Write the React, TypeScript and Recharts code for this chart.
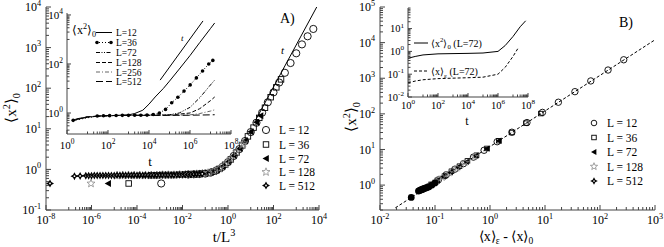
import React from 'react';
import { ScatterChart, Scatter, XAxis, YAxis } from 'recharts';

const FONT = "'Liberation Serif', 'Times New Roman', serif";
const INK = '#000';
const FRAME = '#444';

type Pt = [number, number];

// ---- panel A: <x^2>_0 against t/L^3 (first point of each L is t = 2) ----
const aL12: Pt[] = [
  [1.16e-3, 0.45],
  [1.78e-2, 0.75], [3.16e-2, 0.76], [5.62e-2, 0.77], [0.1, 0.79], [0.178, 0.84], [0.316, 0.95], [0.562, 1.15],
  [1, 1.51], [1.78, 2.14], [3.16, 3.16], [5.62, 5.0], [10, 8.3], [17.8, 14.1], [31.6, 25], [56.2, 45],
  [100, 79], [178, 138], [316, 240], [562, 417], [1000, 724], [1780, 1200], [3160, 1900], [5620, 2880],
];
const aL36: Pt[] = [
  [4.3e-5, 0.45],
  [4.22e-4, 0.72], [7.5e-4, 0.72], [1.33e-3, 0.73], [2.37e-3, 0.73], [4.22e-3, 0.73], [7.5e-3, 0.74],
  [1.33e-2, 0.75], [2.37e-2, 0.75], [4.22e-2, 0.76], [7.5e-2, 0.78], [0.133, 0.81], [0.237, 0.88],
  [0.422, 1.03], [0.75, 1.3], [1.33, 1.76], [2.37, 2.6], [4.22, 3.9], [7.5, 6.5], [13.3, 10.7],
  [23.7, 18.6], [42.2, 33], [75, 60], [133, 105], [214, 165],
];
const aL72: Pt[] = [
  [5.4e-6, 0.45],
  [5.62e-5, 0.72], [1e-4, 0.72], [1.78e-4, 0.72], [3.16e-4, 0.72], [5.62e-4, 0.72], [1e-3, 0.73],
  [1.78e-3, 0.73], [3.16e-3, 0.73], [5.62e-3, 0.74], [1e-2, 0.74], [1.78e-2, 0.75], [3.16e-2, 0.76],
  [5.62e-2, 0.78], [0.1, 0.8], [0.178, 0.86], [0.316, 0.97], [0.562, 1.18], [1, 1.55], [1.78, 2.2],
  [3.16, 3.25], [5.62, 5.1], [10, 8.5], [17.8, 14.5], [26.9, 21],
];
const aL128: Pt[] = [
  [9.5e-7, 0.45],
  [1.33e-5, 0.71], [2.37e-5, 0.72], [4.22e-5, 0.72], [7.5e-5, 0.72], [1.33e-4, 0.72], [2.37e-4, 0.72],
  [4.22e-4, 0.72], [7.5e-4, 0.72], [1.33e-3, 0.73], [2.37e-3, 0.73], [4.22e-3, 0.73], [7.5e-3, 0.74],
  [1.33e-2, 0.74], [2.37e-2, 0.75], [4.22e-2, 0.77], [7.5e-2, 0.79], [0.133, 0.82], [0.237, 0.9],
  [0.422, 1.05], [0.75, 1.33], [1.33, 1.8], [2.37, 2.65], [4.22, 4.0], [4.79, 4.4],
];
const aL512: Pt[] = [
  [1.5e-8, 0.45],
  [1.78e-7, 0.68], [3.16e-7, 0.69], [5.62e-7, 0.7], [7.5e-7, 0.7], [1e-6, 0.7], [1.33e-6, 0.71],
  [1.78e-6, 0.71], [2.37e-6, 0.71], [3.16e-6, 0.71], [4.22e-6, 0.71], [5.62e-6, 0.71], [7.5e-6, 0.71],
  [1e-5, 0.71], [1.33e-5, 0.72], [1.78e-5, 0.72], [2.37e-5, 0.72], [3.16e-5, 0.72], [4.22e-5, 0.72],
  [5.62e-5, 0.72], [7.5e-5, 0.72], [1e-4, 0.72], [1.33e-4, 0.72], [1.78e-4, 0.72], [2.37e-4, 0.72],
  [3.16e-4, 0.72], [4.22e-4, 0.72], [5.62e-4, 0.72], [7.5e-4, 0.72], [1e-3, 0.73], [1.33e-3, 0.73],
  [1.78e-3, 0.73], [2.37e-3, 0.73], [3.16e-3, 0.73], [4.22e-3, 0.73], [5.62e-3, 0.74], [7.5e-3, 0.74],
  [1e-2, 0.74], [1.33e-2, 0.75], [1.78e-2, 0.75], [2.37e-2, 0.75], [3.16e-2, 0.76], [4.22e-2, 0.77],
  [5.62e-2, 0.77], [7.4e-2, 0.78],
];
const aSlope: Pt[] = [[15.8, 15.8], [7940, 10000]];

// ---- panel A inset: <x^2>_0 against t ----
const iaL12: Pt[] = [
  [2, 0.5], [3, 0.58], [10, 0.69], [30, 0.75], [100, 0.78], [300, 0.8], [1000, 0.84], [2000, 0.95],
  [5000, 1.3], [1e4, 2.3], [2e4, 4.5], [5e4, 10], [1e5, 20], [3e5, 62], [1e6, 220], [3e6, 750],
  [1e7, 2800], [1.6e7, 4700],
];
const iaSlope: Pt[] = [[3.5e4, 22], [4.3e6, 5700]];
const iaL36: Pt[] = [
  [2, 0.5], [30, 0.75], [60, 0.77], [120, 0.78], [250, 0.79], [500, 0.8], [1000, 0.8], [2000, 0.81],
  [4000, 0.81], [8000, 0.82], [1.6e4, 0.87], [3.2e4, 1.0], [6.4e4, 1.4], [1.28e5, 2.6], [2.56e5, 4.4],
  [5.12e5, 7.8], [1.02e6, 14], [2.05e6, 27], [4.1e6, 52], [8.2e6, 100], [1.3e7, 140],
];
const iaL72: Pt[] = [
  [2, 0.5], [10, 0.69], [100, 0.78], [1000, 0.8], [1e4, 0.81], [1e5, 0.85], [3e5, 1.0], [1e6, 1.7],
  [3e6, 4.2], [1e7, 14], [1.6e7, 22],
];
const iaL128: Pt[] = [
  [2, 0.5], [10, 0.69], [100, 0.78], [1000, 0.8], [1e4, 0.81], [1e5, 0.82], [1e6, 1.0], [3e6, 1.5],
  [1e7, 3.2], [1.6e7, 4.5],
];
const iaL256: Pt[] = [
  [2, 0.5], [10, 0.69], [100, 0.78], [1000, 0.8], [1e5, 0.81], [1e6, 0.84], [3e6, 0.95], [1e7, 1.2],
  [1.6e7, 1.35],
];
const iaL512: Pt[] = [
  [2, 0.5], [10, 0.69], [100, 0.78], [1000, 0.8], [1e5, 0.8], [1e6, 0.81], [1e7, 0.84], [1.6e7, 0.85],
];

// ---- panel B: <x^2>_0 against <x>_eps - <x>_0 ----
const bL12: Pt[] = [
  [270, 3300], [140, 1700], [68, 840], [35, 420], [17.5, 212], [9, 110], [4.7, 57], [2.5, 30.5],
  [1.35, 16.5], [0.78, 9.5], [0.5, 6.1], [0.33, 4], [0.23, 2.8], [0.16, 1.95], [0.115, 1.4],
];
const bL36: Pt[] = [
  [8.4, 102], [4.5, 55], [2.5, 30], [1.45, 17.6], [0.88, 10.7], [0.57, 6.9], [0.39, 4.8], [0.28, 3.4],
  [0.2, 2.45], [0.15, 1.8], [0.11, 1.35], [0.085, 1.05],
];
const bL72: Pt[] = [
  [1.45, 17.5], [0.88, 10.6], [0.55, 6.7], [0.37, 4.5], [0.26, 3.2], [0.19, 2.3], [0.14, 1.75],
  [0.11, 1.35], [0.09, 1.1], [0.075, 0.92],
];
const bL128: Pt[] = [
  [0.52, 6.3], [0.35, 4.3], [0.25, 3.0], [0.18, 2.2], [0.135, 1.65], [0.105, 1.28], [0.085, 1.03], [0.07, 0.86],
];
const bL512: Pt[] = [
  [0.037, 0.45], [0.05, 0.68], [0.052, 0.7], [0.054, 0.72], [0.056, 0.74], [0.058, 0.75], [0.06, 0.77],
  [0.062, 0.79], [0.065, 0.81], [0.068, 0.83], [0.072, 0.86], [0.078, 0.9], [0.088, 1.0], [0.1, 1.15],
];
const bFit: Pt[] = [[0.019, 0.23], [1000, 12000]];

// ---- panel B inset: both moments against t, L = 72 ----
const ibX2: Pt[] = [
  [1, 0.5], [3, 0.6], [10, 0.7], [100, 0.78], [1e3, 0.8], [1e4, 0.82], [1e5, 0.85], [1e6, 1.0],
  [3e6, 1.8], [1e7, 4.5], [3e7, 12], [7e7, 22],
];
const ibX1: Pt[] = [
  [1, 0.042], [3, 0.05], [10, 0.057], [100, 0.064], [1e3, 0.067], [1e4, 0.07], [1e5, 0.074], [1e6, 0.1],
  [3e6, 0.2], [1e7, 0.6], [2.2e7, 1.4],
];

const mainLegend = ['L = 12', 'L = 36', 'L = 72', 'L = 128', 'L = 512'];
const insetLegend = ['L=12', 'L=36', 'L=72', 'L=128', 'L=256', 'L=512'];

// labelled decades of every axis
const aXMajor = [1e-8, 1e-6, 1e-4, 1e-2, 1, 1e2, 1e4];
const aYMajor = [0.1, 1, 10, 100, 1e3, 1e4];
const bXMajor = [0.01, 0.1, 1, 10, 100, 1000];
const bYMajor = [1, 10, 100, 1e3, 1e4, 1e5];
const iaXMajor = [1, 1e2, 1e4, 1e6, 1e8];
const iaYMajor = [1, 1e2, 1e4];
const ibXMajor = [1, 1e2, 1e4, 1e6, 1e8];
const ibYMajor = [0.01, 0.1, 1, 10, 100];

const rows = (pts: Pt[]) => pts.map(([x, y]) => ({ x, y }));

// major ticks plus grace-style minor ticks
const ticksFor = (majors: number[], every: 1 | 2, [lo, hi]: [number, number]) => {
  const inside = (v: number) => v >= lo * (1 - 1e-9) && v <= hi * (1 + 1e-9);
  const out: number[] = majors.filter(inside);
  const starts = every === 2 ? [majors[0] / 100, ...majors].map((m) => m * 10) : [majors[0] / 10, ...majors];
  starts.forEach((s) => {
    for (let k = every === 2 ? 1 : 2; k <= 9; k++) {
      const v = s * k;
      if (inside(v)) out.push(v);
    }
  });
  return out.sort((a, b) => a - b);
};

type Side = 'bottom' | 'top' | 'left' | 'right';
type Look = { fs: number; len: number; minor: number; xGap: number; yGap: number };

const isMajor = (v: number, majors: number[]) => majors.some((m) => Math.abs(v - m) <= m * 1e-6);

const makeTick = (side: Side, majors: number[], label: boolean, lk: Look) => (p: any) => {
  const { x, y, payload } = p;
  const v = payload.value;
  const major = isMajor(v, majors);
  const l = major ? lk.len : lk.minor;
  const e = Math.round(Math.log10(v));
  const txt = (tx: number, ty: number, anchor: 'middle' | 'end') => (
    <text x={tx} y={ty} textAnchor={anchor} fontSize={lk.fs} fontFamily={FONT} fill={INK}>
      10<tspan dy={-lk.fs * 0.45} fontSize={lk.fs * 0.68}>{e}</tspan>
    </text>
  );
  if (side === 'bottom')
    return (
      <g>
        <line x1={x} y1={y} x2={x} y2={y - l} stroke={FRAME} />
        {label && major ? txt(x, y + lk.xGap, 'middle') : null}
      </g>
    );
  if (side === 'top') return <line x1={x} y1={y} x2={x} y2={y + l} stroke={FRAME} />;
  if (side === 'left')
    return (
      <g>
        <line x1={x} y1={y} x2={x + l} y2={y} stroke={FRAME} />
        {label && major ? txt(x - lk.yGap, y + lk.fs * 0.35, 'end') : null}
      </g>
    );
  return <line x1={x} y1={y} x2={x - l} y2={y} stroke={FRAME} />;
};

type Frame = {
  xDomain: [number, number];
  yDomain: [number, number];
  xMajor: number[];
  yMajor: number[];
  xEvery: 1 | 2;
  yEvery: 1 | 2;
  yWidth: number;
  xHeight: number;
  look: Look;
};

const axesFor = (f: Frame) => {
  const xt = ticksFor(f.xMajor, f.xEvery, f.xDomain);
  const yt = ticksFor(f.yMajor, f.yEvery, f.yDomain);
  const common = {
    type: 'number' as const,
    scale: 'log' as const,
    allowDataOverflow: true,
    interval: 0 as const,
    tickSize: 0,
    tickMargin: 0,
    tickLine: false,
    axisLine: { stroke: FRAME },
  };
  return [
    <XAxis key="xb" xAxisId="b" orientation="bottom" dataKey="x" domain={f.xDomain} ticks={xt} height={f.xHeight}
      tick={makeTick('bottom', f.xMajor, true, f.look)} {...common} />,
    <XAxis key="xt" xAxisId="t" orientation="top" dataKey="x" domain={f.xDomain} ticks={xt} height={0}
      tick={makeTick('top', f.xMajor, false, f.look)} {...common} />,
    <YAxis key="yl" yAxisId="l" orientation="left" dataKey="y" domain={f.yDomain} ticks={yt} width={f.yWidth}
      tick={makeTick('left', f.yMajor, true, f.look)} {...common} />,
    <YAxis key="yr" yAxisId="r" orientation="right" dataKey="y" domain={f.yDomain} ticks={yt} width={0}
      tick={makeTick('right', f.yMajor, false, f.look)} {...common} />,
    <Scatter key="dummy" xAxisId="t" yAxisId="r" data={[]} isAnimationActive={false} />,
  ];
};

// markers
const openCircle = (r: number) => (p: any) =>
  <circle cx={p.cx} cy={p.cy} r={r} fill="none" stroke={INK} strokeWidth={0.9} />;
const openSquare = (s: number) => (p: any) =>
  <rect x={p.cx - s / 2} y={p.cy - s / 2} width={s} height={s} fill="none" stroke={INK} strokeWidth={0.9} />;
const leftTri = (s: number) => (p: any) =>
  <polygon points={`${p.cx - s},${p.cy} ${p.cx + s * 0.8},${p.cy - s} ${p.cx + s * 0.8},${p.cy + s}`} fill={INK} />;
const grayStar = (r: number) => (p: any) => {
  const pts: string[] = [];
  for (let i = 0; i < 10; i++) {
    const a = -Math.PI / 2 + (i * Math.PI) / 5;
    const rr = i % 2 === 0 ? r : r * 0.42;
    pts.push(`${p.cx + rr * Math.cos(a)},${p.cy + rr * Math.sin(a)}`);
  }
  return <polygon points={pts.join(' ')} fill="none" stroke="#8a8a8a" strokeWidth={0.8} />;
};
const fourStar = (r: number) => (p: any) => {
  const pts: string[] = [];
  for (let i = 0; i < 8; i++) {
    const a = -Math.PI / 2 + (i * Math.PI) / 4;
    const rr = i % 2 === 0 ? r : r * 0.5;
    pts.push(`${p.cx + rr * Math.cos(a)},${p.cy + rr * Math.sin(a)}`);
  }
  return (
    <g>
      <polygon points={pts.join(' ')} fill={INK} />
      <circle cx={p.cx} cy={p.cy} r={r * 0.22} fill="#fff" />
    </g>
  );
};
const blob = (r: number) => (p: any) => <circle cx={p.cx} cy={p.cy} r={r} fill={INK} />;
const dot = (r: number) => (p: any) => <circle cx={p.cx} cy={p.cy} r={r} fill={INK} />;
const noMark = () => <g />;

const mainLook: Look = { fs: 12, len: 5, minor: 3, xGap: 14, yGap: 5 };
const insetLook: Look = { fs: 11, len: 4, minor: 2.5, xGap: 15, yGap: 4 };
const insetBLook: Look = { fs: 10.5, len: 4, minor: 2.5, xGap: 12, yGap: 4 };

const aFrame: Frame = {
  xDomain: [1e-8, 1e4], yDomain: [0.1, 1e4], xMajor: aXMajor, yMajor: aYMajor,
  xEvery: 2, yEvery: 1, yWidth: 46, xHeight: 37, look: mainLook,
};
const bFrame: Frame = {
  xDomain: [0.01, 1000], yDomain: [0.2, 1e5], xMajor: bXMajor, yMajor: bYMajor,
  xEvery: 1, yEvery: 1, yWidth: 48, xHeight: 37, look: mainLook,
};
const iaFrame: Frame = {
  xDomain: [1, 1e8], yDomain: [0.139, 12000], xMajor: iaXMajor, yMajor: iaYMajor,
  xEvery: 2, yEvery: 2, yWidth: 27, xHeight: 36, look: insetLook,
};
const ibFrame: Frame = {
  xDomain: [1, 1e8], yDomain: [0.01, 80], xMajor: ibXMajor, yMajor: ibYMajor,
  xEvery: 2, yEvery: 1, yWidth: 38, xHeight: 28, look: insetBLook,
};

const lineOnly = (data: Pt[], stroke: string, dash?: string) => (
  <Scatter xAxisId="b" yAxisId="l" data={rows(data)} shape={noMark} isAnimationActive={false}
    line={{ stroke, strokeWidth: 1, strokeDasharray: dash }} />
);

const Sup = ({ children, fs }: { children: React.ReactNode; fs: number }) => (
  <tspan dy={-fs * 0.42} fontSize={fs * 0.68}>{children}</tspan>
);

const X2 = ({ fs }: { fs: number }) => (
  <>
    ⟨x<tspan dy={-fs * 0.42} fontSize={fs * 0.68}>2</tspan>
    <tspan dy={fs * 0.42}>⟩</tspan>
    <tspan dy={fs * 0.28} fontSize={fs * 0.68}>0</tspan>
    <tspan dy={-fs * 0.28}> </tspan>
  </>
);

const Overlay = () => {
  const aRows = [130, 144.5, 158.5, 172, 185.5];
  const bRows = [123, 137.5, 152, 166.5, 181];
  const aMarks = [openCircle(3.6), openSquare(5.5), leftTri(3.5), grayStar(4.2), fourStar(4)];
  const bMarks = [openCircle(2.8), openSquare(4.5), leftTri(3), grayStar(3.8), fourStar(3.8)];
  const iaRows = [32.5, 42.5, 52.5, 62.5, 72, 81.5];
  const iaDash = [undefined, '1 2', '4 1.5 1 1.5 1 1.5', '4 2', '4 2 1 2', '7 3'];
  const iaCol = [INK, INK, INK, INK, '#666', INK];
  return (
    <svg width={664} height={247} style={{ position: 'absolute', left: 0, top: 0, pointerEvents: 'none' }}
      fontFamily={FONT} fill={INK}>
      {/* panel A */}
      <g transform="translate(16,108) rotate(-90)">
        <text textAnchor="middle" fontSize={15}><X2 fs={15} /></text>
      </g>
      <text x={224} y={242} textAnchor="middle" fontSize={15}>t/L<Sup fs={15}>3</Sup></text>
      <text x={280} y={23} fontSize={14}>A)</text>
      <text x={281} y={54} fontSize={11} fontStyle="italic">t</text>
      {mainLegend.map((s, i) => (
        <g key={s}>
          {aMarks[i]({ cx: 266, cy: aRows[i] })}
          <text x={279} y={aRows[i] + 4} fontSize={11.5}>{s}</text>
        </g>
      ))}
      {/* panel A inset */}
      <text x={72} y={34} fontSize={12}><X2 fs={12} /></text>
      <text x={150} y={166} textAnchor="middle" fontSize={13}>t</text>
      <text x={181} y={41} fontSize={9} fontStyle="italic">t</text>
      {insetLegend.map((s, i) => (
        <g key={s}>
          <line x1={96} x2={112} y1={iaRows[i]} y2={iaRows[i]} stroke={iaCol[i]} strokeDasharray={iaDash[i]} />
          {i === 1 ? (
            <>
              <circle cx={97} cy={iaRows[i]} r={1.8} />
              <circle cx={111} cy={iaRows[i]} r={1.8} />
            </>
          ) : null}
          <text x={116} y={iaRows[i] + 3.5} fontSize={9.5}>{s}</text>
        </g>
      ))}
      {/* panel B */}
      <g transform="translate(356,117) rotate(-90)">
        <text textAnchor="middle" fontSize={15}><X2 fs={15} /></text>
      </g>
      <text x={506} y={241} textAnchor="middle" fontSize={14}>
        ⟨x⟩<tspan dy={3} fontSize={9.5}>ε</tspan><tspan dy={-3}> - ⟨x⟩</tspan>
        <tspan dy={3} fontSize={9.5}>0</tspan>
      </text>
      <text x={619} y={27} fontSize={14}>B)</text>
      {mainLegend.map((s, i) => (
        <g key={s}>
          {bMarks[i]({ cx: 594, cy: bRows[i] })}
          <text x={607} y={bRows[i] + 4} fontSize={11.5}>{s}</text>
        </g>
      ))}
      {/* panel B inset */}
      <text x={467} y={125} textAnchor="middle" fontSize={12}>t</text>
      <line x1={414} x2={428} y1={43} y2={43} stroke={INK} />
      <text x={431} y={46.5} fontSize={10}>
        <X2 fs={10} />(L=72)
      </text>
      <line x1={414} x2={428} y1={71} y2={71} stroke={INK} strokeDasharray="3 2" />
      <text x={431} y={74.5} fontSize={10}>
        ⟨x⟩<tspan dy={3} fontSize={7}>ε</tspan><tspan dy={-3}>  (L=72)</tspan>
      </text>
    </svg>
  );
};

export default function App() {
  return (
    <div style={{ position: 'absolute', left: 0, top: 0, width: 664, height: 247, background: '#fff', fontFamily: FONT }}>
      <div style={{ position: 'absolute', left: 0, top: 0 }}>
        <ScatterChart width={332} height={247} margin={{ top: 7, right: 13, bottom: 0, left: 0 }}>
          {axesFor(aFrame)}
          {lineOnly(aSlope, INK)}
          <Scatter xAxisId="b" yAxisId="l" data={rows(aL12)} shape={openCircle(3.6)} isAnimationActive={false} />
          <Scatter xAxisId="b" yAxisId="l" data={rows(aL36)} shape={openSquare(5.5)} isAnimationActive={false} />
          <Scatter xAxisId="b" yAxisId="l" data={rows(aL72)} shape={leftTri(3.5)} isAnimationActive={false} />
          <Scatter xAxisId="b" yAxisId="l" data={rows(aL128)} shape={grayStar(4.2)} isAnimationActive={false} />
          <Scatter xAxisId="b" yAxisId="l" data={rows(aL512)} shape={fourStar(4)} isAnimationActive={false} />
        </ScatterChart>
      </div>
      <div style={{ position: 'absolute', left: 332, top: 0 }}>
        <ScatterChart width={332} height={247} margin={{ top: 7, right: 9, bottom: 0, left: 0 }}>
          {axesFor(bFrame)}
          {lineOnly(bFit, INK, '3 2')}
          <Scatter xAxisId="b" yAxisId="l" data={rows(bL12)} shape={openCircle(3.2)} isAnimationActive={false} />
          <Scatter xAxisId="b" yAxisId="l" data={rows(bL36)} shape={openSquare(4.5)} isAnimationActive={false} />
          <Scatter xAxisId="b" yAxisId="l" data={rows(bL72)} shape={leftTri(3.2)} isAnimationActive={false} />
          <Scatter xAxisId="b" yAxisId="l" data={rows(bL128)} shape={grayStar(3.8)} isAnimationActive={false} />
          <Scatter xAxisId="b" yAxisId="l" data={rows(bL512)} shape={blob(3.4)} isAnimationActive={false} />
        </ScatterChart>
      </div>
      <div style={{ position: 'absolute', left: 40, top: 0 }}>
        <ScatterChart width={200} height={170} margin={{ top: 13, right: 9, bottom: 0, left: 0 }}>
          {axesFor(iaFrame)}
          {lineOnly(iaSlope, INK)}
          {lineOnly(iaL12, INK)}
          {lineOnly(iaL72, INK, '4 1.5 1 1.5 1 1.5')}
          {lineOnly(iaL128, INK, '4 2')}
          {lineOnly(iaL256, '#666', '4 2 1 2')}
          {lineOnly(iaL512, INK, '7 3')}
          <Scatter xAxisId="b" yAxisId="l" data={rows(iaL36)} shape={dot(1.8)} isAnimationActive={false}
            line={{ stroke: INK, strokeWidth: 1, strokeDasharray: '1 2' }} />
        </ScatterChart>
      </div>
      <div style={{ position: 'absolute', left: 370, top: 0 }}>
        <ScatterChart width={170} height={125} margin={{ top: 8, right: 12, bottom: 0, left: 0 }}>
          {axesFor(ibFrame)}
          {lineOnly(ibX2, INK)}
          {lineOnly(ibX1, INK, '3 2')}
        </ScatterChart>
      </div>
      <Overlay />
    </div>
  );
}
